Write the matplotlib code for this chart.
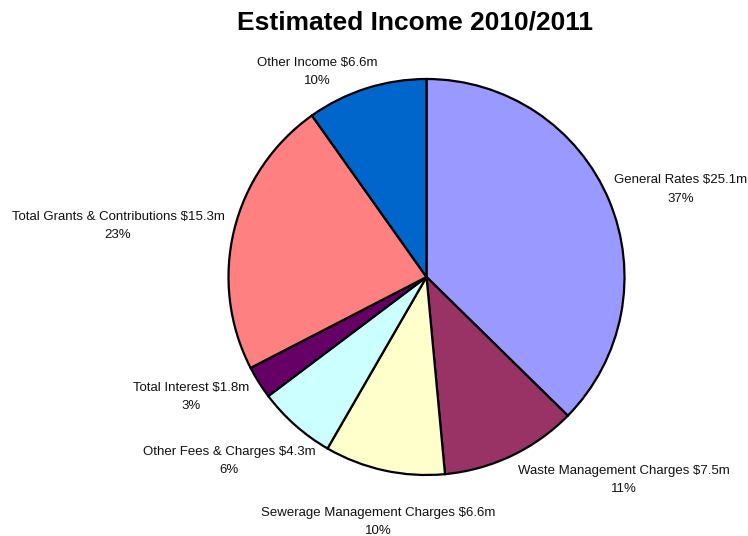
import matplotlib
matplotlib.use("Agg")
import matplotlib.pyplot as plt

categories = [
    "General Rates",
    "Waste Management Charges",
    "Sewerage Management Charges",
    "Other Fees & Charges",
    "Total Interest",
    "Total Grants & Contributions",
    "Other Income",
]
values = [25.1, 7.5, 6.6, 4.3, 1.8, 15.3, 6.6]
colors = ["#9999FF", "#993366", "#FFFFCC", "#CCFFFF", "#660066", "#FF8080", "#0066CC"]

# label anchor points (pixel space, y measured from top)
label_pos = [
    (681, 189.5),
    (624, 480),
    (378, 522),
    (229, 461),
    (191, 397),
    (118, 226),
    (317, 72),
]

W, H = 748, 536
plt.rcParams["font.family"] = ["Liberation Sans", "DejaVu Sans"]
fig = plt.figure(figsize=(W / 100, H / 100), dpi=100)
ax = fig.add_axes([0, 0, 1, 1])

cx, cy, r = 426.5, H - 277, 198
ax.pie(values, colors=colors, startangle=90, counterclock=False,
       center=(cx, cy), radius=r, frame=True,
       wedgeprops=dict(edgecolor="black", linewidth=1.6))
ax.set_xlim(0, W)
ax.set_ylim(0, H)
ax.set_aspect("equal")
ax.axis("off")

total = sum(values)
for name, v, (x, y) in zip(categories, values, label_pos):
    pct = round(v / total * 100)
    ax.text(x, H - y, f"{name} ${v:.1f}m\n{pct}%", ha="center", va="center",
            fontsize=9.5, linespacing=1.75, color="#111111")

fig.text(415 / W, 1 - 22.5 / H, "Estimated Income 2010/2011", ha="center", va="center",
         fontsize=19, fontweight="bold")

fig.savefig("out.png", dpi=100)
